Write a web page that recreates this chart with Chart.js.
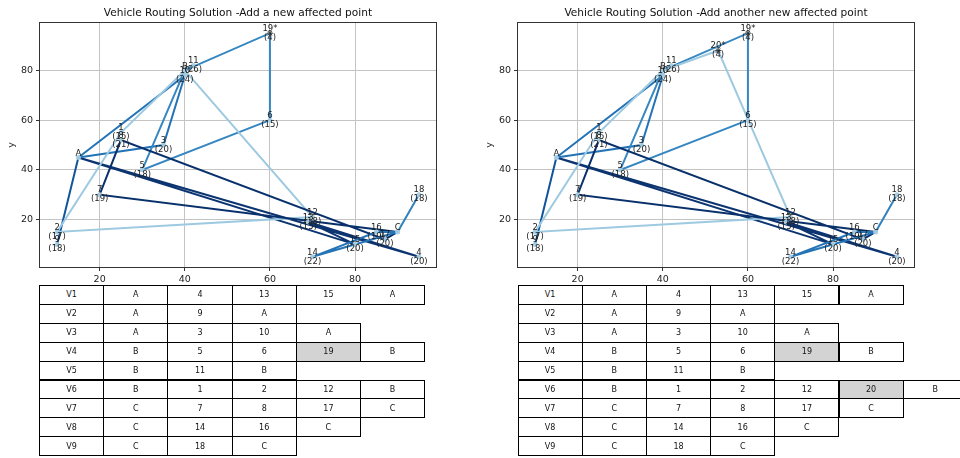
<!DOCTYPE html>
<html>
<head>
<meta charset="utf-8">
<script src="https://cdn.jsdelivr.net/npm/chart.js@4.4.1/dist/chart.umd.min.js"></script>
<style>
  html, body { margin: 0; padding: 0; background: #fff; }
  body { width: 960px; height: 458px; position: relative; overflow: hidden; font-family: "DejaVu Sans", sans-serif; }
  canvas { position: absolute; top: 0; }
  .cell { position: absolute; box-sizing: border-box; border: 1px solid #000; background: #fff;
          font: 8px "DejaVu Sans", sans-serif; color: #111; display: flex; align-items: center; justify-content: center; }
  .cell.hl { background: #d3d3d3; }
</style>
</head>
<body>
<canvas id="left" width="480" height="290" style="left:0px"></canvas>
<canvas id="right" width="480" height="290" style="left:478px"></canvas>
<script>
// Nodes: depots A, B, C and customers 1..20
const nodeNames = ['A','B','C','1','2','3','4','5','6','7','8','9','10','11','12','13','14','15','16','17','18','19','20'];
const nodeX     = [15, 40, 90, 25, 10, 35, 95, 30, 60, 20, 25, 10, 40, 42, 70, 69, 70, 80, 85, 87, 95, 60, 53];
const nodeY     = [45, 80, 15, 55, 15, 50,  5, 40, 60, 30, 52, 10, 78, 82, 21, 19,  5, 10, 15, 12, 30, 95, 88];
const demands   = [null, null, null, 15, 17, 20, 20, 18, 15, 19, 21, 18, 24, 26, 18, 15, 22, 20, 19, 20, 18, 4, 4];
const depots    = ['A','B','C'];

const vehicles = ['V1','V2','V3','V4','V5','V6','V7','V8','V9'];
const vehicleColors = ['#0b3470','#0f559d','#2373b6','#3586c1','#3d8ec5','#9dc9e1','#08306b','#2474b7','#3181bd'];

// Routes after inserting node 19
const routesFirst = [
  ['A','4','13','15','A'],
  ['A','9','A'],
  ['A','3','10','A'],
  ['B','5','6','19','B'],
  ['B','11','B'],
  ['B','1','2','12','B'],
  ['C','7','8','17','C'],
  ['C','14','16','C'],
  ['C','18','C']
];
// Routes after inserting node 20 as well
const routesSecond = [
  ['A','4','13','15','A'],
  ['A','9','A'],
  ['A','3','10','A'],
  ['B','5','6','19','B'],
  ['B','11','B'],
  ['B','1','2','12','20','B'],
  ['C','7','8','17','C'],
  ['C','14','16','C'],
  ['C','18','C']
];
const newFirst  = ['19'];
const newSecond = ['19','20'];

const titleFirst  = 'Vehicle Routing Solution -Add a new affected point';
const titleSecond = 'Vehicle Routing Solution -Add another new affected point';

const xTicks = [20, 40, 60, 80];
const yTicks = [20, 40, 60, 80];

const FONT = '"DejaVu Sans", sans-serif';

function pos(name) {
  const i = nodeNames.indexOf(name);
  return { x: nodeX[i], y: nodeY[i] };
}

function buildChart(canvasId, routes, newPts, title, lastCustomer) {
  const shown = nodeNames.filter(n => depots.includes(n) || (+n <= lastCustomer));
  const datasets = routes.map((r, i) => ({
    label: vehicles[i],
    data: r.map(pos),
    showLine: true,
    borderColor: vehicleColors[i],
    borderWidth: 2,
    pointRadius: 0,
    fill: false,
    tension: 0,
    order: routes.length - i + 2
  }));
  datasets.push({
    label: 'nodes',
    data: shown.map(pos),
    showLine: false,
    pointRadius: 2.5,
    pointBackgroundColor: 'rgba(166,206,227,0.95)',
    pointBorderWidth: 0,
    order: 1
  });
  datasets.push({
    label: 'new',
    data: newPts.map(pos),
    showLine: false,
    pointStyle: 'star',
    pointRadius: 3,
    pointBorderColor: '#444',
    pointBorderWidth: 1,
    order: 0
  });

  const labelsPlugin = {
    id: 'nodeLabels',
    afterDatasetsDraw(chart) {
      const { ctx, chartArea: a, scales: { x, y } } = chart;
      ctx.save();
      // axes frame
      ctx.strokeStyle = '#333';
      ctx.lineWidth = 1;
      ctx.strokeRect(Math.round(a.left) + 0.5, Math.round(a.top) + 0.5,
                     Math.round(a.right - a.left) - 1, Math.round(a.bottom - a.top) - 1);
      // node labels
      ctx.fillStyle = '#222';
      ctx.font = '8.5px ' + FONT;
      ctx.textAlign = 'center';
      shown.forEach(n => {
        const p = pos(n);
        const px = x.getPixelForValue(p.x), py = y.getPixelForValue(p.y);
        if (depots.includes(n)) {
          ctx.textBaseline = 'bottom';
          ctx.fillText(n, px, py + 0.5);
        } else {
          const d = demands[nodeNames.indexOf(n)];
          const top = newPts.includes(n) ? n + '*' : n;
          ctx.textBaseline = 'middle';
          ctx.fillText(top, px, py - 4.5);
          ctx.fillText('(' + d + ')', px, py + 4.5);
        }
      });
      // title
      ctx.font = '10.6px ' + FONT;
      ctx.textBaseline = 'middle';
      ctx.fillStyle = '#111';
      ctx.fillText(title, (a.left + a.right) / 2, 13);
      ctx.restore();
    }
  };

  const H = 290;
  return new Chart(document.getElementById(canvasId), {
    type: 'scatter',
    data: { datasets },
    options: {
      responsive: false,
      animation: false,
      devicePixelRatio: 1,
      layout: { padding: { top: 22, right: 43, left: 0, bottom: 0 } },
      plugins: { legend: { display: false }, tooltip: { enabled: false }, title: { display: false } },
      scales: {
        x: {
          type: 'linear', min: 5.75, max: 99.25,
          afterBuildTicks: s => { s.ticks = xTicks.map(v => ({ value: v })); },
          afterFit: s => { s.height = H - 268; },
          grid: { color: '#c4c4c4', lineWidth: 1, tickLength: 3, tickColor: '#333' },
          border: { display: false },
          ticks: { font: { size: 9.5, family: FONT }, color: '#222', padding: 3, maxRotation: 0 }
        },
        y: {
          type: 'linear', min: 0.5, max: 99.5,
          afterBuildTicks: s => { s.ticks = yTicks.map(v => ({ value: v })); },
          afterFit: s => { s.width = 39; },
          grid: { color: '#c4c4c4', lineWidth: 1, tickLength: 3, tickColor: '#333' },
          border: { display: false },
          ticks: { font: { size: 9.5, family: FONT }, color: '#222', padding: 3 },
          title: { display: true, text: 'y', font: { size: 9.5, family: FONT }, color: '#222', padding: { top: 6, bottom: 0 } }
        }
      }
    },
    plugins: [labelsPlugin]
  });
}

// Route tables: one row per vehicle, one cell per stop
function buildTable(left, routes, newPts) {
  const top = 285, cw = 64.2, rh = 18.9;
  routes.forEach((r, i) => {
    const cells = [vehicles[i]].concat(r);
    cells.forEach((txt, j) => {
      const d = document.createElement('div');
      d.className = 'cell' + (j > 0 && newPts.includes(txt) && j < cells.length - 1 ? ' hl' : '');
      d.style.left = (left + j * cw) + 'px';
      d.style.top = (top + i * rh) + 'px';
      d.style.width = (cw + 1) + 'px';
      d.style.height = (rh + 1) + 'px';
      d.textContent = txt;
      document.body.appendChild(d);
    });
  });
}

buildChart('left', routesFirst, newFirst, titleFirst, 19);
buildChart('right', routesSecond, newSecond, titleSecond, 20);
buildTable(39, routesFirst, newFirst);
buildTable(517.5, routesSecond, newSecond);
</script>
</body>
</html>
